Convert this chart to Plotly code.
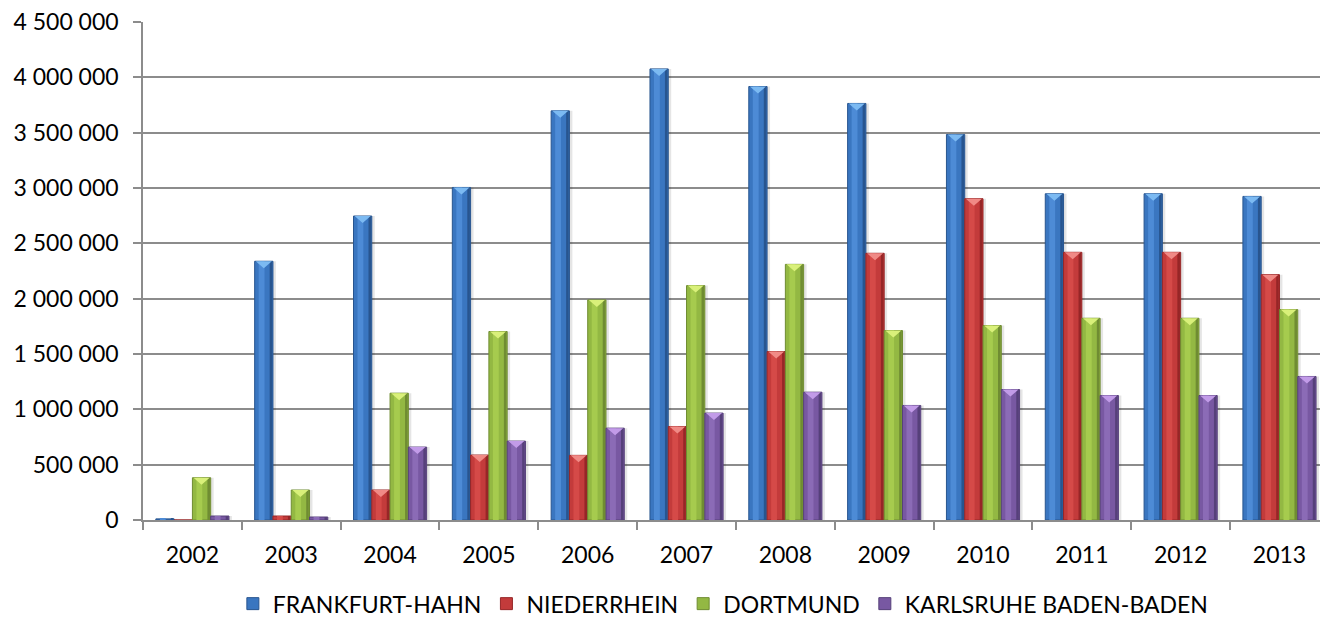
import plotly.graph_objects as go

# ---------------- data ----------------
years = ["2002", "2003", "2004", "2005", "2006", "2007",
         "2008", "2009", "2010", "2011", "2012", "2013"]
frankfurt_hahn = [10000, 2338000, 2747000, 3005000, 3697000, 4076000,
                  3917000, 3764000, 3484000, 2948000, 2948000, 2924000]
niederrhein = [0, 36000, 271000, 587000, 584000, 845000,
               1522000, 2410000, 2903000, 2419000, 2419000, 2217000]
dortmund = [382000, 271000, 1146000, 1703000, 1989000, 2118000,
            2310000, 1712000, 1757000, 1823000, 1823000, 1901000]
karlsruhe = [36000, 27000, 659000, 713000, 830000, 966000,
             1155000, 1035000, 1179000, 1125000, 1125000, 1297000]
series_names = ["FRANKFURT-HAHN", "NIEDERRHEIN", "DORTMUND", "KARLSRUHE BADEN-BADEN"]
y_tickvals = [0, 500000, 1000000, 1500000, 2000000, 2500000, 3000000, 3500000, 4000000, 4500000]

# ---------------- style ----------------
series = [frankfurt_hahn, niederrhein, dortmund, karlsruhe]
main_cols = ["#3a76c0", "#c33b3b", "#93b843", "#7858a2"]
dark_cols = ["#28558f", "#962627", "#6f8c32", "#56407a"]
light_cols = ["#4d8bd6", "#d54a48", "#a6cb4e", "#8b6bb6"]
tri_cols = ["#7cbaf2", "#f08a86", "#d9f07a", "#c29be8"]

FONT = "Lato"
FS = 23
YMAX = 4500000
W = 0.185
starts = [-0.37, -0.185, 0.0, 0.185]
X_RANGE = [-0.5, 11.41]
PLOT_H = 498
TRI_PX = 7
tri_h = TRI_PX * YMAX / PLOT_H

fig = go.Figure()

# shadows
for k, vals in enumerate(series):
    fig.add_trace(go.Bar(x=years, y=vals, width=W, offset=starts[k] + 0.03,
                         marker=dict(color="rgba(0,0,0,0.10)", line=dict(width=0)),
                         showlegend=False, hoverinfo="skip"))

for k, vals in enumerate(series):
    # main bar (legend entry)
    fig.add_trace(go.Bar(x=years, y=vals, width=W, offset=starts[k], name=series_names[k],
                         legendgroup=series_names[k],
                         marker=dict(color=main_cols[k], line=dict(color=dark_cols[k], width=1))))
    # highlight strip
    fig.add_trace(go.Bar(x=years, y=vals, width=W * 0.32, offset=starts[k] + W * 0.22,
                         legendgroup=series_names[k], showlegend=False, hoverinfo="skip",
                         marker=dict(color=light_cols[k], line=dict(width=0))))
    # dark right edge
    fig.add_trace(go.Bar(x=years, y=vals, width=W * 0.14, offset=starts[k] + W * 0.82,
                         legendgroup=series_names[k], showlegend=False, hoverinfo="skip",
                         marker=dict(color=dark_cols[k], line=dict(width=0))))
    # bevel triangles on top of bars
    xs, ys = [], []
    for i, v in enumerate(vals):
        if v >= 100000:
            x0 = i + starts[k] + 0.06 * W
            x1 = i + starts[k] + 0.94 * W
            xm = i + starts[k] + 0.5 * W
            xs += [x0, x1, xm, x0, None]
            ys += [v, v, v - tri_h, v, None]
    fig.add_trace(go.Scatter(x=xs, y=ys, xaxis="x2", mode="lines", fill="toself",
                             fillcolor=tri_cols[k], line=dict(width=0, color=tri_cols[k]),
                             showlegend=False, hoverinfo="skip", legendgroup=series_names[k]))

grid_col = "#8c8c8c"
fig.update_layout(
    width=1320, height=623,
    margin=dict(l=143, r=0, t=22, b=103, autoexpand=False),
    paper_bgcolor="white", plot_bgcolor="white",
    barmode="overlay",
    separators=", ",
    font=dict(family=FONT, size=FS, color="#000000"),
    showlegend=True,
    legend=dict(orientation="h", x=0.548, xref="container", xanchor="center",
                y=0.031, yref="container", yanchor="middle",
                font=dict(family=FONT, size=FS, color="#000000"),
                itemwidth=30, traceorder="normal"),
    xaxis=dict(type="category", range=X_RANGE, tickson="boundaries", ticks="outside",
               ticklen=8, tickcolor=grid_col, tickwidth=1.5, ticklabelstandoff=14,
               showline=True, linecolor=grid_col, linewidth=1.5, showgrid=False,
               tickfont=dict(family=FONT, size=FS, color="#000000")),
    xaxis2=dict(overlaying="x", range=X_RANGE, visible=False, showgrid=False),
    yaxis=dict(range=[0, YMAX], tickvals=y_tickvals, tickformat=",d", ticks="outside",
               ticklen=8, tickcolor=grid_col, tickwidth=1.5, ticklabelstandoff=10,
               showline=True, linecolor=grid_col, linewidth=1.5,
               showgrid=True, gridcolor=grid_col, gridwidth=1.5, zeroline=False,
               tickfont=dict(family=FONT, size=FS, color="#000000")),
)

fig.write_html("out.html")
